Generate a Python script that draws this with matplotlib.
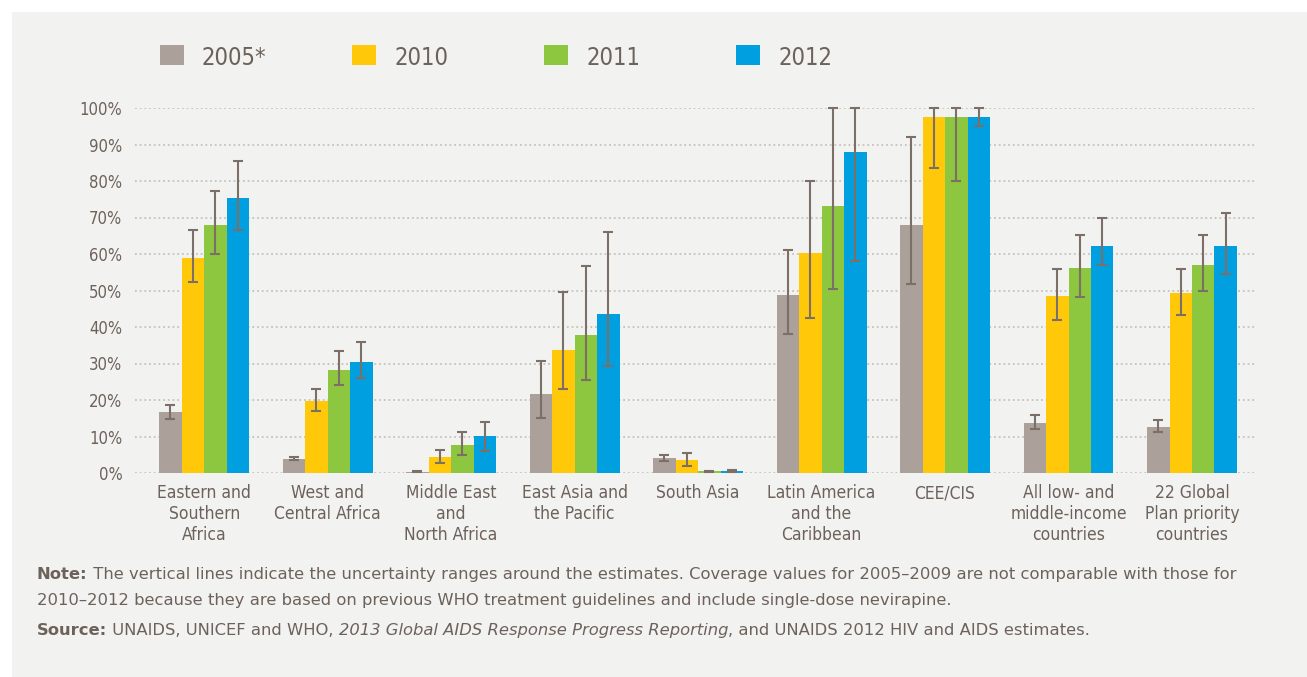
import matplotlib
matplotlib.use('Agg')
import matplotlib.pyplot as plt
from matplotlib import font_manager
from matplotlib.patches import Rectangle
import numpy as np

# categories and series
regions = ['Eastern and\nSouthern\nAfrica', 'West and\nCentral Africa',
           'Middle East\nand\nNorth Africa', 'East Asia and\nthe Pacific',
           'South Asia', 'Latin America\nand the\nCaribbean', 'CEE/CIS',
           'All low- and\nmiddle-income\ncountries',
           '22 Global\nPlan priority\ncountries']
years = ['2005*', '2010', '2011', '2012']

v2005 = [16.6, 3.7, 0.3, 21.6, 4.0, 48.7, 67.9, 13.6, 12.5]
v2010 = [58.9, 19.7, 4.3, 33.6, 3.5, 60.2, 97.5, 48.4, 49.2]
v2011 = [67.9, 28.2, 7.6, 37.7, 0.5, 73.1, 97.5, 56.1, 56.9]
v2012 = [75.3, 30.4, 10.1, 43.5, 0.5, 87.9, 97.5, 62.1, 62.1]

lo2005 = [14.8, 3.5, 0.2, 15.1, 3.2, 38.2, 51.8, 12.1, 11.3]
hi2005 = [18.7, 4.5, 0.5, 30.8, 4.9, 61.0, 92.0, 15.8, 14.4]
lo2010 = [52.4, 16.9, 2.8, 23.1, 2.0, 42.4, 83.6, 41.9, 43.4]
hi2010 = [66.6, 23.1, 6.4, 49.5, 5.4, 80.0, 100, 55.9, 55.8]
lo2011 = [60.0, 24.2, 4.8, 25.5, 0.4, 50.5, 79.9, 48.1, 50.0]
hi2011 = [77.2, 33.3, 11.3, 56.8, 0.6, 100, 100, 65.2, 65.2]
lo2012 = [66.5, 26.1, 6.1, 29.3, 0.4, 58.0, 95.0, 57.1, 54.5]
hi2012 = [85.5, 35.9, 14.1, 65.9, 0.8, 100, 100, 70.0, 71.3]

colors = ['#aba09a', '#ffc90a', '#8dc63f', '#00a0e0']
TXT = '#6d625b'
ERR = '#7b6f68'
BG = '#f2f2f0'

###############################
# pick a condensed label font #
###############################
names = {f.name for f in font_manager.fontManager.ttflist}
if 'Liberation Sans Narrow' in names:
    COND = dict(family='Liberation Sans Narrow')
else:
    COND = dict(family='DejaVu Sans', fontstretch='condensed')

fig = plt.figure(figsize=(13.07, 6.77), dpi=100, facecolor='white')
fig.add_artist(Rectangle((12 / 1307, 0), 1, 1 - 12 / 677, transform=fig.transFigure,
                         facecolor=BG, edgecolor='none', zorder=-10))

ax = fig.add_axes([135 / 1307, 1 - 473 / 677, (1255 - 135) / 1307, (473 - 108) / 677])
ax.set_facecolor('none')

series = [(v2005, lo2005, hi2005), (v2010, lo2010, hi2010),
          (v2011, lo2011, hi2011), (v2012, lo2012, hi2012)]
x = np.arange(len(regions))
w = 0.182
for i, (vals, lo, hi) in enumerate(series):
    vals = np.array(vals)
    pos = x + (i - 1.5) * w
    ax.bar(pos, vals, w, color=colors[i], zorder=2)
    eb = ax.errorbar(pos, vals, yerr=[vals - np.array(lo), np.array(hi) - vals],
                     fmt='none', ecolor=ERR, elinewidth=1.5, capsize=3.3,
                     capthick=1.5, zorder=3)
    for art in eb.lines[1] + eb.lines[2]:
        art.set_clip_on(False)

ax.set_xlim(-0.56, 8.51)
ax.set_ylim(0, 100)
ax.set_yticks(np.arange(0, 101, 10))
ax.set_yticklabels(['%d%%' % t for t in range(0, 101, 10)])
ax.yaxis.grid(True, color='#c9c1bb', linestyle=(0, (1, 1.6)), linewidth=1.3)
ax.set_axisbelow(True)
ax.set_xticks(x)
ax.set_xticklabels(regions, linespacing=1.22)
ax.tick_params(length=0)
ax.tick_params(axis='y', pad=9)
ax.tick_params(axis='x', pad=8)
for lab in ax.get_yticklabels():
    lab.set(color=TXT, fontsize=12, **COND)
for lab in ax.get_xticklabels():
    lab.set(color=TXT, fontsize=12.5, va='top', **COND)
for s in ax.spines.values():
    s.set_visible(False)

##########
# legend #
##########
for i, yr in enumerate(years):
    x0 = 160 + 192 * i
    fig.add_artist(Rectangle((x0 / 1307, 1 - 65 / 677), 24 / 1307, 20 / 677,
                             transform=fig.transFigure, facecolor=colors[i],
                             edgecolor='none'))
    fig.text((x0 + 42) / 1307, 1 - 65 / 677, yr, color=TXT, fontsize=17,
             va='baseline', ha='left', **COND)

#############
# footnotes #
#############
FS = 11.8


def runs(y, parts):
    prev = None
    for txt, kw in parts:
        if prev is None:
            prev = fig.text(37 / 1307, y, txt, color=TXT, fontsize=FS,
                            va='baseline', **kw)
        else:
            prev = ax.annotate(txt, xy=(1, 0), xycoords=prev, va='bottom',
                               color=TXT, fontsize=FS, annotation_clip=False, **kw)


runs(1 - 579 / 677, [('Note:', dict(fontweight='bold')),
                     (' The vertical lines indicate the uncertainty ranges around the '
                      'estimates. Coverage values for 2005\u20132009 are not comparable '
                      'with those for', {})])
fig.text(37 / 1307, 1 - 605 / 677,
         '2010\u20132012 because they are based on previous WHO treatment guidelines '
         'and include single-dose nevirapine.', color=TXT, fontsize=FS, va='baseline')
runs(1 - 635 / 677, [('Source:', dict(fontweight='bold')),
                     (' UNAIDS, UNICEF and WHO, ', {}),
                     ('2013 Global AIDS Response Progress Reporting', dict(style='italic')),
                     (', and UNAIDS 2012 HIV and AIDS estimates.', {})])

plt.savefig('out.png', dpi=100, facecolor='white')
